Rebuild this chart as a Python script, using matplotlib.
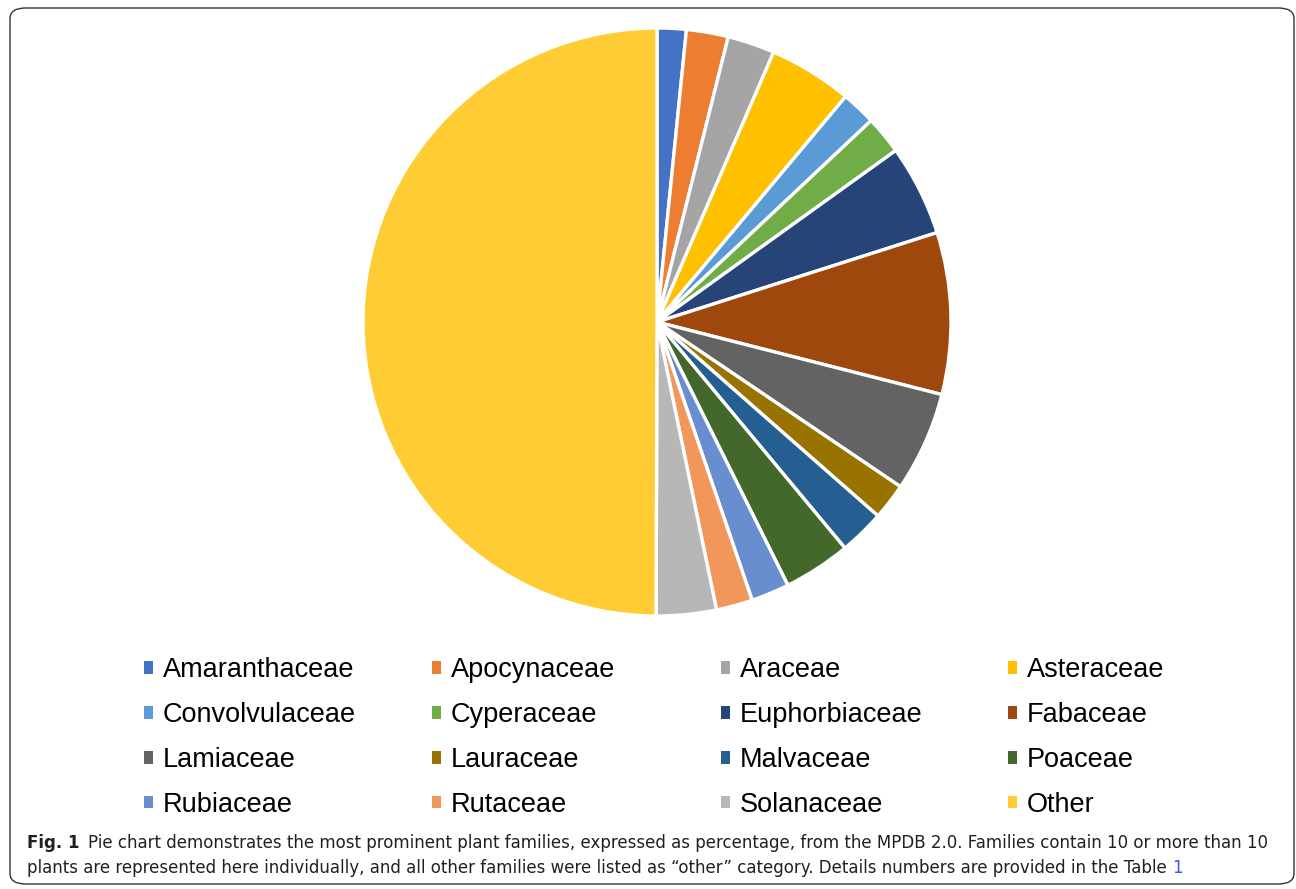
import matplotlib.pyplot as plt
from matplotlib.patches import FancyBboxPatch, Patch

# data (percent of plants)
families = ['Amaranthaceae', 'Apocynaceae', 'Araceae', 'Asteraceae',
            'Convolvulaceae', 'Cyperaceae', 'Euphorbiaceae', 'Fabaceae',
            'Lamiaceae', 'Lauraceae', 'Malvaceae', 'Poaceae',
            'Rubiaceae', 'Rutaceae', 'Solanaceae', 'Other']
shares = [1.6, 2.3, 2.6, 4.6, 1.9, 2.1, 5.0, 8.9,
          5.5, 2.0, 2.5, 3.7, 2.1, 2.0, 3.3, 50.0]
colors = ['#4472C4', '#ED7D31', '#A5A5A5', '#FFC000', '#5B9BD5', '#70AD47',
          '#264478', '#9E480E', '#636363', '#997300', '#255E91', '#43682B',
          '#698ED0', '#F1975A', '#B7B7B7', '#FFCD33']

W, H = 1296, 889
fig = plt.figure(figsize=(W / 100, H / 100), dpi=100)

# pie: centre (657, 322), radius 294 px
cx, cy, r = 657, 322, 294
ax = fig.add_axes([(cx - r) / W, 1 - (cy + r) / H, 2 * r / W, 2 * r / H])
ax.pie(shares, colors=colors, startangle=90, counterclock=False,
       wedgeprops=dict(edgecolor='white', linewidth=2.4))
ax.set_aspect('equal')
ax.set_xlim(-1, 1)
ax.set_ylim(-1, 1)
ax.axis('off')

# legend: 4 evenly spaced columns, filled row by row
ncol = 4
col_x = [144, 432, 721, 1008]
for c in range(ncol):
    idx = list(range(c, len(families), ncol))
    handles = [Patch(facecolor=colors[i], edgecolor='none') for i in idx]
    labels = [families[i] for i in idx]
    leg = fig.legend(handles, labels, loc='upper left',
                     bbox_to_anchor=(col_x[c] / W, 1 - 657 / H), frameon=False,
                     prop={'family': 'Liberation Sans', 'size': 19.5},
                     handlelength=0.34, handleheight=0.34, handletextpad=0.35,
                     labelspacing=0.7, borderpad=0, borderaxespad=0)

# caption
cap_font = ['DejaVu Sans']
cap_col = '#231f20'
fig.canvas.draw()
rend = fig.canvas.get_renderer()
t0 = fig.text(27 / W, 1 - 843 / H, 'Fig. 1', fontsize=12, fontweight='bold',
              family=cap_font, color=cap_col, va='center')
bb = t0.get_window_extent(rend)
fig.text((bb.x1 + 9) / W, 1 - 843 / H,
         'Pie chart demonstrates the most prominent plant families, expressed as percentage, '
         'from the MPDB 2.0. Families contain 10 or more than 10',
         fontsize=12, family=cap_font, color=cap_col, va='center')
t2 = fig.text(27 / W, 1 - 868 / H,
              'plants are represented here individually, and all other families were listed as '
              '\u201cother\u201d category. Details numbers are provided in the Table',
              fontsize=12, family=cap_font, color=cap_col, va='center')
bb2 = t2.get_window_extent(rend)
fig.text((bb2.x1 + 5) / W, 1 - 868 / H, '1', fontsize=12, family=cap_font,
         color='#3b5bdb', va='center')

# rounded frame
frame = FancyBboxPatch((10 / W, 1 - 884 / H), 1284 / W, 876 / H,
                       boxstyle='round,pad=0,rounding_size=0.012',
                       transform=fig.transFigure, facecolor='none',
                       edgecolor='#333333', linewidth=1.0)
fig.patches.append(frame)

fig.savefig('out.png', dpi=100)
